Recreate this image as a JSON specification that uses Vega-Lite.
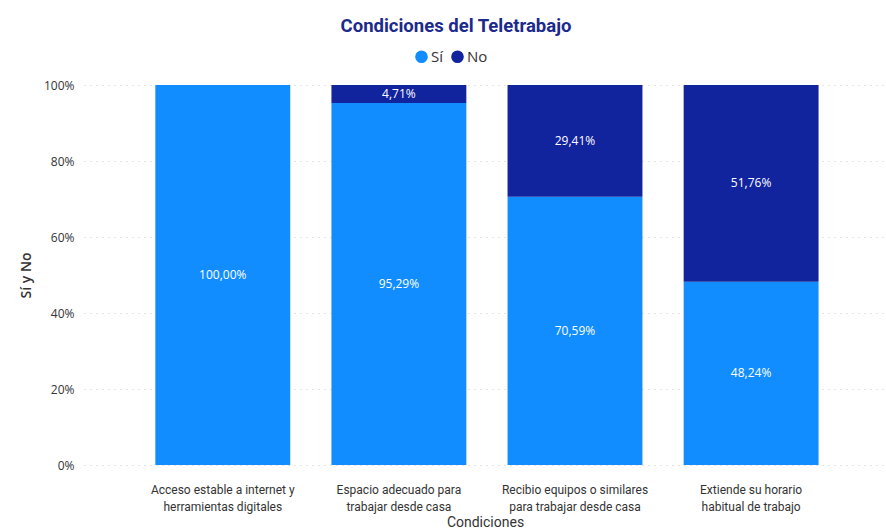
{
  "$schema": "https://vega.github.io/schema/vega-lite/v6.json",
  "width": 802,
  "height": 380,
  "autosize": {"type": "none"},
  "padding": {"left": 84, "top": 85, "right": 0, "bottom": 66},
  "background": "white",
  "config": {
    "locale": {"number": {"decimal": ",", "thousands": ".", "grouping": [3], "currency": ["", " €"]}},
    "view": {"stroke": null},
    "font": "Open Sans"
  },
  "title": {
    "text": "Condiciones del Teletrabajo",
    "font": "Roboto",
    "fontSize": 18.5,
    "fontWeight": "bold",
    "color": "#1b2a8c",
    "anchor": "middle",
    "frame": "group",
    "dx": -29,
    "offset": 14
  },
  "data": {
    "values": [
      {"condicion": "Acceso estable a internet y herramientas digitales", "respuesta": "Sí", "orden": 1, "valor": 1.0},
      {"condicion": "Acceso estable a internet y herramientas digitales", "respuesta": "No", "orden": 2, "valor": 0.0},
      {"condicion": "Espacio adecuado para trabajar desde casa", "respuesta": "Sí", "orden": 1, "valor": 0.9529},
      {"condicion": "Espacio adecuado para trabajar desde casa", "respuesta": "No", "orden": 2, "valor": 0.0471},
      {"condicion": "Recibio equipos o similares para trabajar desde casa", "respuesta": "Sí", "orden": 1, "valor": 0.7059},
      {"condicion": "Recibio equipos o similares para trabajar desde casa", "respuesta": "No", "orden": 2, "valor": 0.2941},
      {"condicion": "Extiende su horario habitual de trabajo", "respuesta": "Sí", "orden": 1, "valor": 0.4824},
      {"condicion": "Extiende su horario habitual de trabajo", "respuesta": "No", "orden": 2, "valor": 0.5176}
    ]
  },
  "transform": [
    {"stack": "valor", "groupby": ["condicion"], "sort": [{"field": "orden", "order": "ascending"}], "as": ["v0", "v1"]},
    {"calculate": "(datum.v0 + datum.v1) / 2", "as": "vmid"}
  ],
  "encoding": {
    "x": {
      "field": "condicion",
      "type": "nominal",
      "sort": null,
      "scale": {"paddingInner": 0.234, "paddingOuter": 0.394, "align": 0.514},
      "axis": {
        "title": "Condiciones",
        "titleFont": "Roboto",
        "titleFontSize": 14,
        "titleFontWeight": "normal",
        "titleColor": "#333333",
        "titlePadding": 3,
        "labelAngle": 0,
        "labelFont": "Roboto",
        "labelFontSize": 12,
        "labelColor": "#333333",
        "labelPadding": 19,
        "labelLineHeight": 17,
        "labelExpr": "datum.value == 'Acceso estable a internet y herramientas digitales' ? ['Acceso estable a internet y', 'herramientas digitales'] : datum.value == 'Espacio adecuado para trabajar desde casa' ? ['Espacio adecuado para', 'trabajar desde casa'] : datum.value == 'Recibio equipos o similares para trabajar desde casa' ? ['Recibio equipos o similares', 'para trabajar desde casa'] : ['Extiende su horario', 'habitual de trabajo']",
        "domain": false,
        "ticks": false,
        "grid": false
      }
    }
  },
  "layer": [
    {
      "mark": {"type": "bar"},
      "encoding": {
        "y": {
          "field": "v0",
          "type": "quantitative",
          "scale": {"domain": [0, 1]},
          "axis": {
            "title": "Sí y No",
            "titleFont": "Open Sans",
            "titleFontSize": 14,
            "titleFontWeight": 600,
            "titleColor": "#333333",
            "titlePadding": 10,
            "format": ".0%",
            "values": [0, 0.2, 0.4, 0.6, 0.8, 1],
            "labelFont": "Open Sans",
            "labelFontSize": 12,
            "labelColor": "#333333",
            "labelPadding": 10,
            "domain": false,
            "ticks": false,
            "grid": true,
            "gridColor": "#c8c8c8",
            "gridDash": [1, 5],
            "gridWidth": 1
          }
        },
        "y2": {"field": "v1"},
        "color": {
          "field": "respuesta",
          "type": "nominal",
          "scale": {"domain": ["Sí", "No"], "range": ["#118DFF", "#12239E"]},
          "legend": {
            "title": null,
            "orient": "none",
            "direction": "horizontal",
            "legendX": 330,
            "legendY": -36,
            "symbolType": "circle",
            "symbolSize": 160,
            "symbolStrokeWidth": 0,
            "labelFont": "Open Sans",
            "labelFontSize": 15,
            "labelColor": "#333333",
            "labelOffset": 2,
            "columnPadding": 6
          }
        }
      }
    },
    {
      "transform": [{"filter": "datum.valor > 0"}],
      "mark": {"type": "text", "color": "white", "font": "Open Sans", "fontSize": 12, "baseline": "middle"},
      "encoding": {
        "y": {"field": "vmid", "type": "quantitative"},
        "text": {"field": "valor", "type": "quantitative", "format": ".2%"}
      }
    }
  ]
}
